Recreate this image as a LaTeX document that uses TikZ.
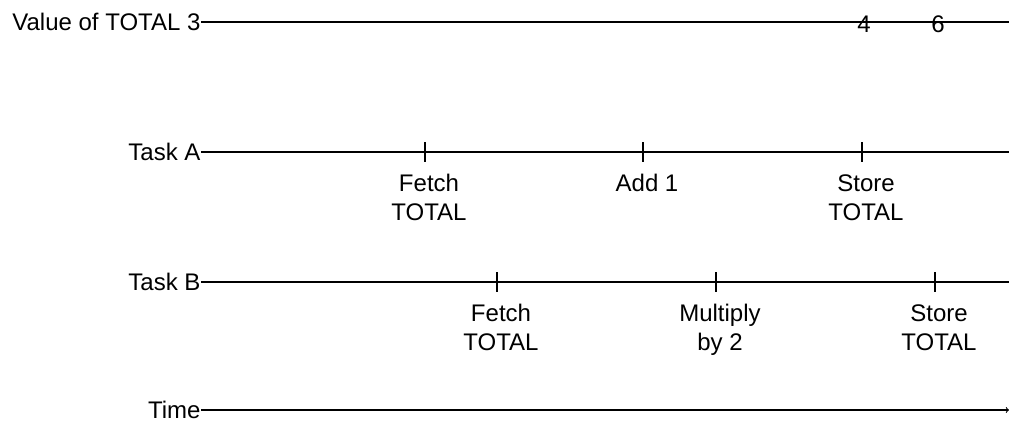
\documentclass[tikz,border=0pt]{standalone}
\usepackage{fontspec}
\setmainfont{Liberation Sans}
\usetikzlibrary{positioning}

\begin{document}
\begin{tikzpicture}[x=1pt,y=-1pt,line width=1.1pt,
every node/.style={font=\fontsize{24}{29}\selectfont,inner sep=0pt},
lbl/.style={anchor=east},
evt/.style={align=center,xshift=4pt}]
\useasboundingbox (0,0) rectangle (1009,421);
% row labels
\node[lbl] (val) at (201,22) {Value of TOTAL 3};
\node[lbl] (ta) at (201,152) {Task A};
\node[lbl] (tb) at (201,282) {Task B};
\node[lbl] (time) at (201,410) {Time};
\coordinate (valend) at (1009,22);
\coordinate (taend) at (1009,152);
\coordinate (tbend) at (1009,282);
\coordinate (timeend) at (1009,410);
\draw (val.east) -- (valend);
\draw (ta.east) -- (taend);
\draw (tb.east) -- (tbend);
\draw[->] (time.east) -- (timeend);
\node (v4) at (864,24) {4};
\node (v6) at (938,24) {6};
% events
\foreach \X/\N/\T in {425/fa/{Fetch\\TOTAL},643/aa/{Add 1},862/sa/{Store\\TOTAL}}
{\coordinate (\N) at (\X,162);
\draw (\X,142) -- (\N);
\node[evt,below=12pt of \N] (\N-txt) {\T};}
\foreach \X/\N/\T in {497/fb/{Fetch\\TOTAL},716/mb/{Multiply\\by 2},935/sb/{Store\\TOTAL}}
{\coordinate (\N) at (\X,292);
\draw (\X,272) -- (\N);
\node[evt,below=12pt of \N] (\N-txt) {\T};}
\end{tikzpicture}
\end{document}
